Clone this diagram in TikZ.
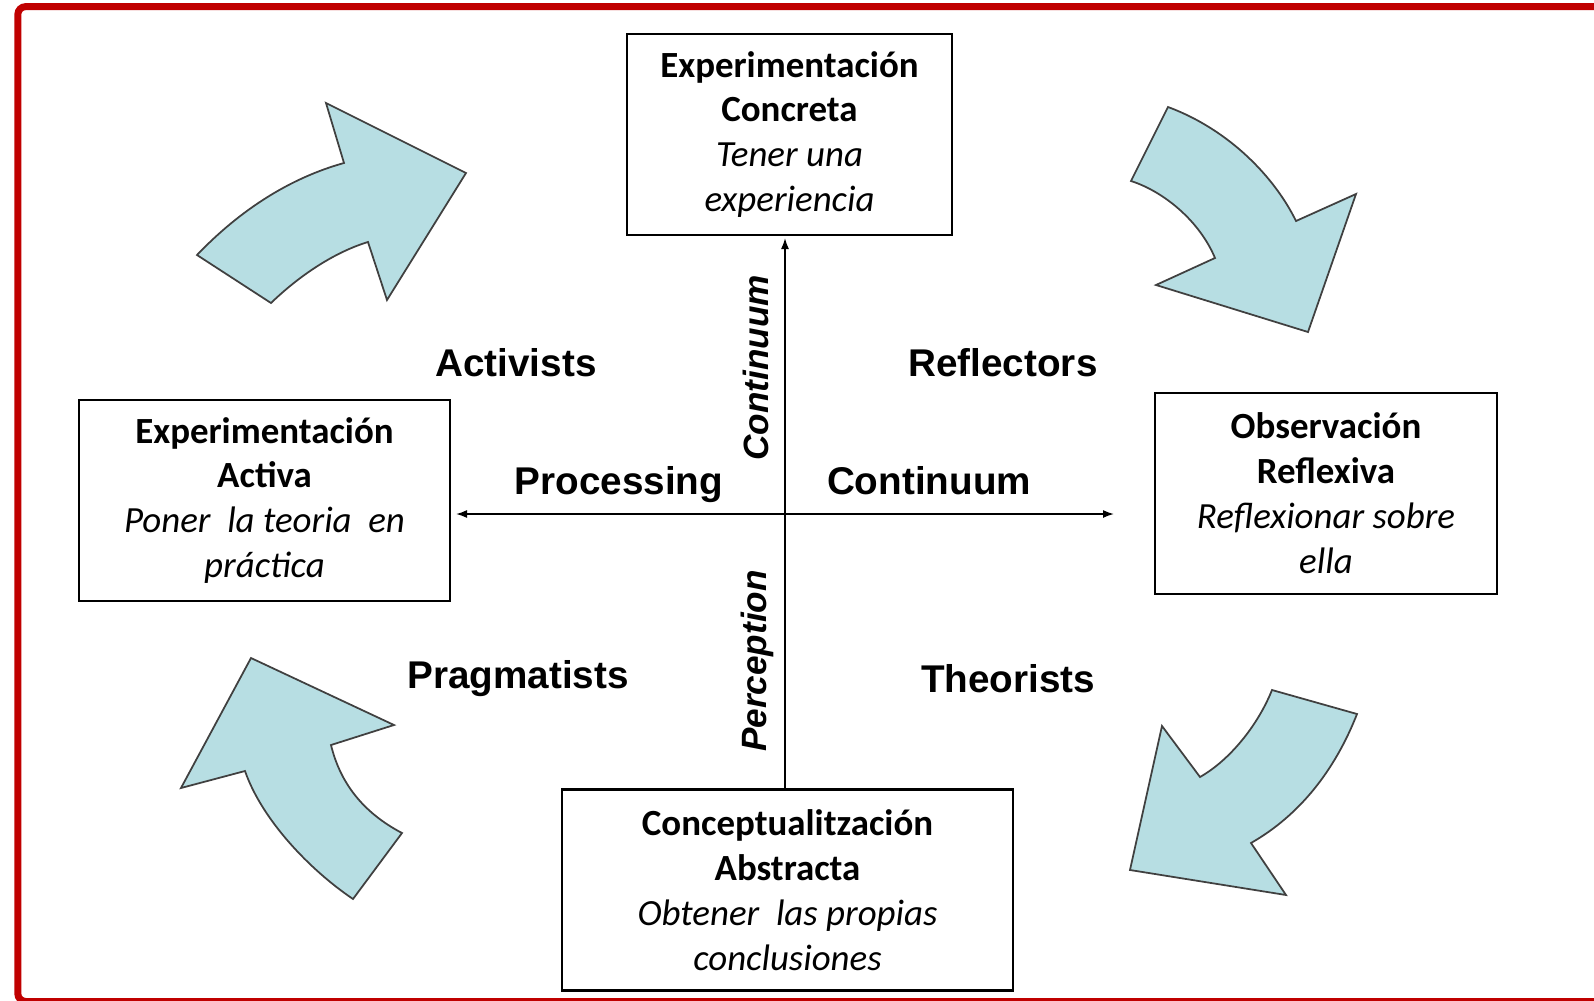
\documentclass[tikz,border=0pt]{standalone}
\usepackage{fontspec}
\setmainfont{Carlito}
\newfontfamily\lblfont{Liberation Sans}
\usetikzlibrary{arrows.meta}
\definecolor{cyclefill}{RGB}{183,222,227}
\definecolor{framered}{RGB}{192,0,0}

\begin{document}
\begin{tikzpicture}[
        x=0.1mm, y=-0.1mm,
        % --- 區域樣式設定 ---
        stage/.style={draw, line width=0.7pt, align=center, inner sep=0pt, minimum height=20.1mm, font=\fontsize{10.5}{12.8}\selectfont},
        lbl/.style={anchor=base, inner sep=0pt, font=\lblfont\bfseries\fontsize{11}{13}\selectfont},
        vlbl/.style={rotate=90, inner sep=0pt, font=\lblfont\bfseries\itshape\fontsize{10}{12}\selectfont},
        axis/.style={line width=0.45pt, >={Latex[length=1.1mm,width=0.8mm]}},
        blk/.style={fill=cyclefill, draw=black!75, line width=0.5pt, line join=miter}
        % --------------------
    ]
    \useasboundingbox (0,0) rectangle (1594,1000);

    % 紅色外框
    \draw[framered, line width=0.7mm, rounded corners=0.8mm] (17.8,6.6) rectangle (1700,1001.5);

    % 四個階段
    \node[stage, minimum width=32.5mm] (conc) at (789.5,134.5)
        {\bfseries Experimentación\\\bfseries Concreta\\\itshape Tener una\\\itshape experiencia};
    \node[stage, minimum width=34.2mm] (refl) at (1326,493.5)
        {\bfseries Observación\\\bfseries Reflexiva\\\itshape Reflexionar sobre\\\itshape ella};
    \node[stage, minimum width=45.1mm] (abst) at (787.5,890)
        {\bfseries Conceptualitzación\\\bfseries Abstracta\\\itshape Obtener~~las propias\\\itshape conclusiones};
    \node[stage, minimum width=37.1mm] (activ) at (264.5,500.5)
        {\bfseries Experimentación\\\bfseries Activa\\\itshape Poner~~la teoria~~en\\\itshape práctica};

    % 兩條軸
    \coordinate (vb) at (785,790);
    \coordinate (vt) at (785,238);
    \coordinate (hl) at (456,514);
    \coordinate (hr) at (1114,514);
    \draw[axis, ->] (vb) -- (vt);
    \draw[axis, <->] (hl) -- (hr);

    % 軸標籤
    \node[lbl] (proc) at (619,494) {Processing};
    \node[lbl] (hcont) at (929,494) {Continuum};
    \node[vlbl] (vcont) at (756,368) {Continuum};
    \node[vlbl] (perc) at (757,661) {Perception};

    % 學習風格
    \node[lbl] (activists) at (516,376) {Activists};
    \node[lbl] (reflectors) at (1003,376) {Reflectors};
    \node[lbl] (theorists) at (1008,692) {Theorists};
    \node[lbl] (pragmatists) at (518,688) {Pragmatists};

    % 彎箭頭 (左上, 右上, 右下, 左下)
    \draw[blk] (197,255) -- (271,303) .. controls (300,275) and (335,252) .. (368,242)
        -- (387,300) -- (466,173) -- (326,103) -- (344,163)
        .. controls (290,178) and (240,210) .. (197,255) -- cycle;
    \draw[blk] (1168,107) -- (1131,181) .. controls (1165,192) and (1200,222) .. (1215,258)
        -- (1156,285) -- (1308,332) -- (1356,194) -- (1296,221)
        .. controls (1275,178) and (1230,130) .. (1168,107) -- cycle;
    \draw[blk] (1272,690) -- (1357,714) .. controls (1335,770) and (1300,815) .. (1251,843)
        -- (1286,895) -- (1130,870) -- (1162,726) -- (1200,777)
        .. controls (1230,760) and (1258,725) .. (1272,690) -- cycle;
    \draw[blk] (402,833) -- (353,899) .. controls (310,870) and (262,820) .. (245,771)
        -- (181,788) -- (251,658) -- (394,725) -- (331,745)
        .. controls (340,782) and (362,812) .. (402,833) -- cycle;
\end{tikzpicture}
\end{document}
